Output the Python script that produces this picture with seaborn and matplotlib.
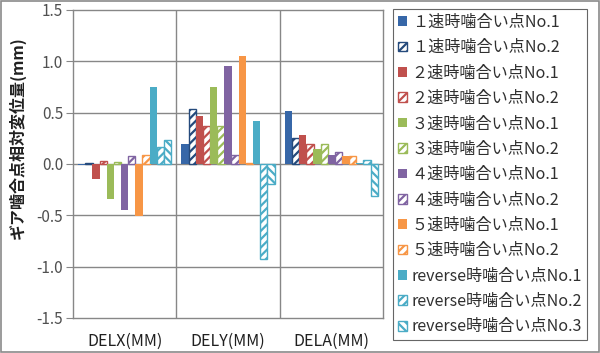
import numpy as np
import pandas as pd
import matplotlib
matplotlib.use('Agg')
import matplotlib.pyplot as plt
import seaborn as sns
from matplotlib.patches import Rectangle

sns.set_style("white")
plt.rcParams['font.family'] = ['Noto Sans CJK JP', 'DejaVu Sans']
plt.rcParams['hatch.linewidth'] = 1.6

categories = ["DELX(MM)", "DELY(MM)", "DELA(MM)"]
series = ["１速時噛合い点No.1", "１速時噛合い点No.2",
          "２速時噛合い点No.1", "２速時噛合い点No.2",
          "３速時噛合い点No.1", "３速時噛合い点No.2",
          "４速時噛合い点No.1", "４速時噛合い点No.2",
          "５速時噛合い点No.1", "５速時噛合い点No.2",
          "reverse時噛合い点No.1", "reverse時噛合い点No.2", "reverse時噛合い点No.3"]

gear1_no1 = [-0.01, 0.19, 0.52]
gear1_no2 = [0.005, 0.54, 0.25]
gear2_no1 = [-0.15, 0.47, 0.285]
gear2_no2 = [0.03, 0.37, 0.19]
gear3_no1 = [-0.34, 0.75, 0.15]
gear3_no2 = [0.02, 0.37, 0.19]
gear4_no1 = [-0.45, 0.95, 0.09]
gear4_no2 = [0.075, 0.09, 0.115]
gear5_no1 = [-0.51, 1.055, 0.08]
gear5_no2 = [0.09, 0.005, 0.08]
rev_no1 = [0.75, 0.42, 0.005]
rev_no2 = [0.17, -0.925, 0.04]
rev_no3 = [0.23, -0.195, -0.31]

all_vals = [gear1_no1, gear1_no2, gear2_no1, gear2_no2, gear3_no1, gear3_no2,
            gear4_no1, gear4_no2, gear5_no1, gear5_no2, rev_no1, rev_no2, rev_no3]

colors = ["#3767A8", "#254A7C", "#C0504D", "#C0504D", "#9BBB59", "#9BBB59",
          "#8064A2", "#8064A2", "#F79646", "#F79646", "#4BACC6", "#4BACC6", "#4BACC6"]
hatches = [None, "////", None, "////", None, "////", None, "////", None, "////",
           None, "////", "\\\\\\\\"]

rows = []
for name, vals in zip(series, all_vals):
    for cat, v in zip(categories, vals):
        rows.append({"cat": cat, "series": name, "value": v})
df = pd.DataFrame(rows)

fig = plt.figure(figsize=(6, 3.53), dpi=100)
ax = fig.add_axes([73/600, 35/353, 310/600, 308/353])

sns.barplot(data=df, x="cat", y="value", hue="series", hue_order=series,
            order=categories, palette=colors, width=0.9, legend=False,
            ax=ax, errorbar=None, linewidth=0, saturation=1)

# 斜線パターンの系列は白地+色付き枠線
for cont, col, h in zip(ax.containers, colors, hatches):
    for p in cont.patches:
        cx = p.get_x() + p.get_width() / 2
        w = 0.071
        p.set_x(cx - w / 2)
        p.set_width(w)
        if h:
            p.set_facecolor("white")
            p.set_edgecolor(col)
            p.set_hatch(h)
            p.set_linewidth(1.0)
        else:
            p.set_edgecolor("none")

gc = "#878787"
ax.set_ylim(-1.5, 1.5)
ax.set_xlim(-0.5, 2.5)
ax.set_yticks(np.arange(-1.5, 1.51, 0.5))
ax.set_yticklabels([f"{t:.1f}" for t in np.arange(-1.5, 1.51, 0.5)])
for t in np.arange(-1.0, 1.01, 0.5):
    ax.axhline(t, color=gc, lw=1, zorder=0)
for xv in [0.5, 1.5]:
    ax.axvline(xv, color=gc, lw=1, zorder=0)
for s in ax.spines.values():
    s.set_color(gc)
    s.set_linewidth(1)
ax.tick_params(axis="y", which="both", left=True, length=5, color=gc,
               labelsize=11, labelcolor="#505050", pad=2)
ax.tick_params(axis="x", length=0, labelsize=11.5, labelcolor="#202020", pad=11)
ax.set_xlabel("")
ax.set_ylabel("ギア噛合点相対変位量(mm)", fontsize=11.5, fontweight="bold",
              color="#202020")
ax.yaxis.set_label_coords(-0.152, 0.585)

handles = [cont.patches[0] for cont in ax.containers]
leg = fig.legend(handles, series, loc="upper left",
                 bbox_to_anchor=(393/600, 1 - 9/353), fontsize=11.6,
                 frameon=True, fancybox=False, edgecolor="#404040",
                 handlelength=0.55, handleheight=0.55, handletextpad=0.3,
                 labelspacing=0.52, borderpad=0.3, borderaxespad=0)
leg.get_frame().set_linewidth(0.8)
for txt in leg.get_texts():
    txt.set_color("#303030")

fig.patches.append(Rectangle((0.001, 0.004), 0.997, 0.994, transform=fig.transFigure,
                             fill=False, edgecolor="#8a8a8a", lw=1.2))

fig.savefig("out.png", dpi=100)
